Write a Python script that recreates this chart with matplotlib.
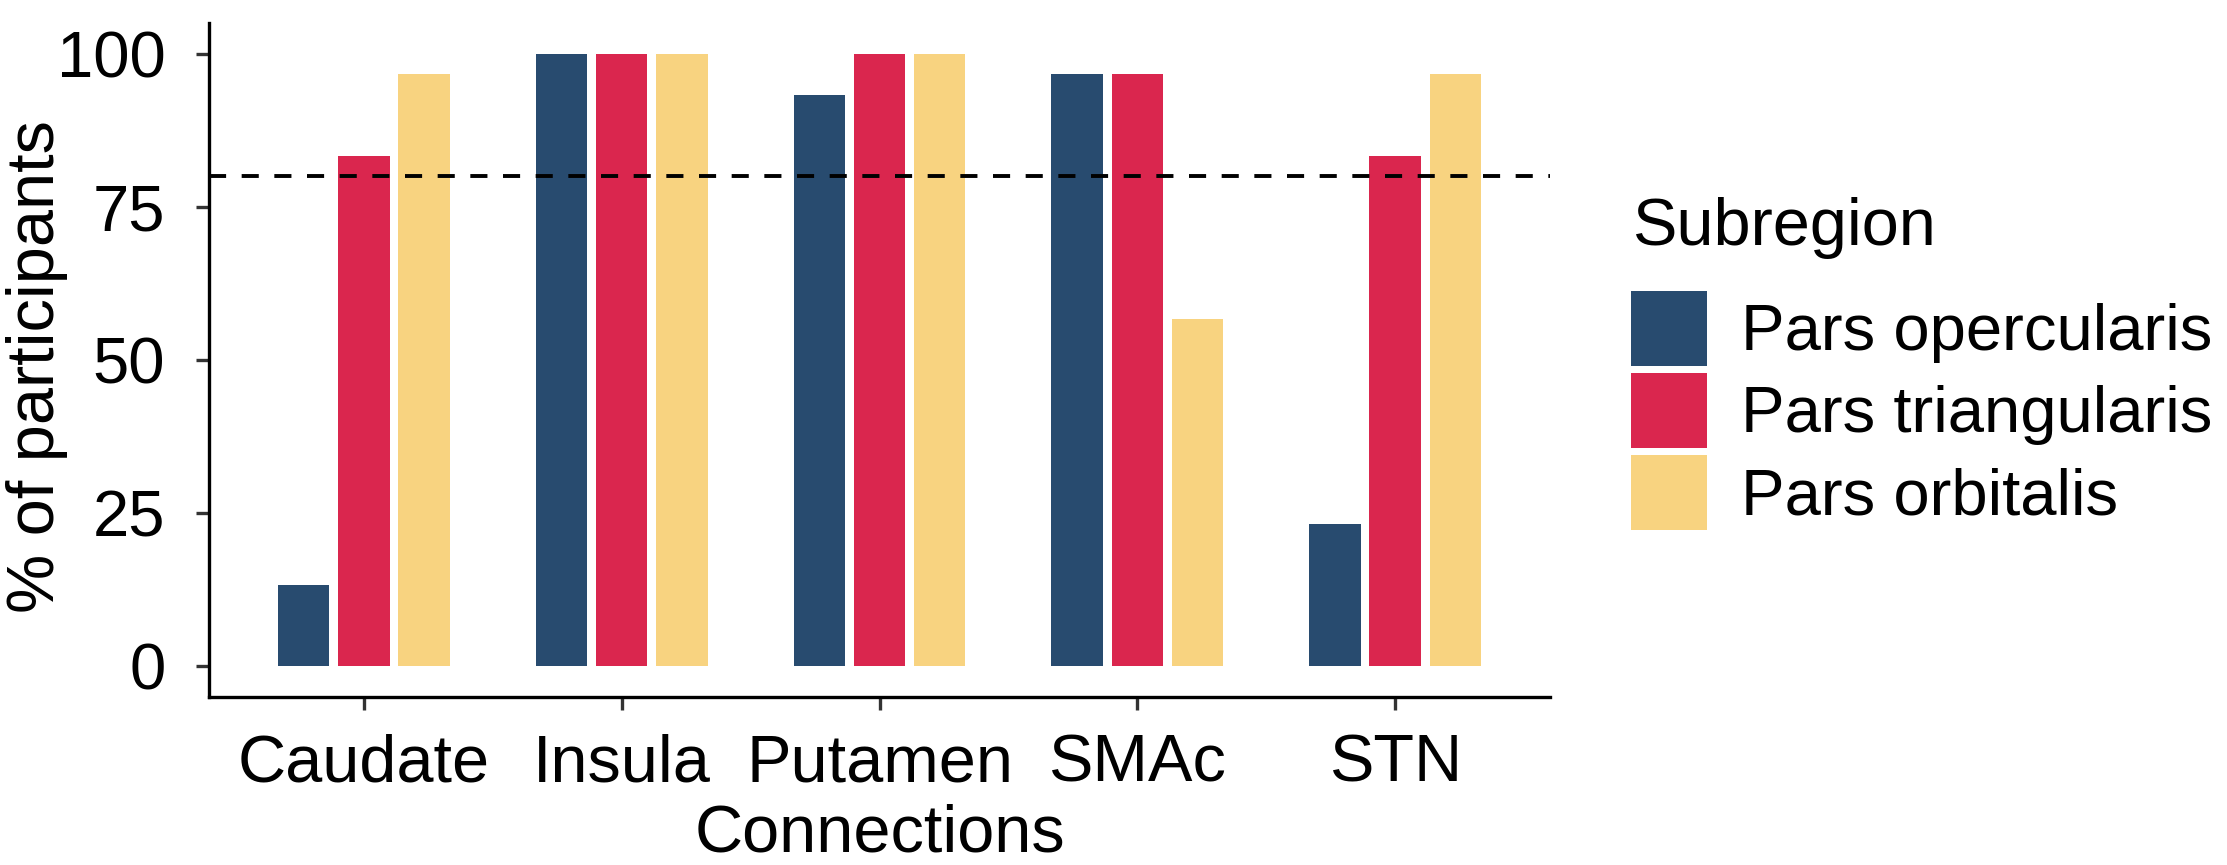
import numpy as np
import matplotlib
matplotlib.use("Agg")
import matplotlib.pyplot as plt
from matplotlib.patches import Patch

plt.rcParams['font.family'] = ['Liberation Sans', 'DejaVu Sans']

# data: % of participants (n = 30) with a connection, per subregion
connections = ['Caudate', 'Insula', 'Putamen', 'SMAc', 'STN']
subregions = ['Pars opercularis', 'Pars triangularis', 'Pars orbitalis']
opercularis = [13.3, 100, 93.3, 96.7, 23.3]
triangularis = [83.3, 100, 100, 96.7, 83.3]
orbitalis = [96.7, 100, 100, 56.7, 96.7]
threshold = 80
yticks = [0, 25, 50, 75, 100]

colors = ['#284B6F', '#DA264E', '#F8D380']
series = [opercularis, triangularis, orbitalis]

W, H = 2227, 865
fig = plt.figure(figsize=(W / 100, H / 100), dpi=100)
ax = fig.add_axes([209 / W, 1 - 697 / H, (1550 - 209) / W, (697 - 23) / H])

x = np.arange(1, len(connections) + 1)
step = 0.7 / 3
for i, (vals, col) in enumerate(zip(series, colors)):
    ax.bar(x + (i - 1) * step, vals, width=0.2, color=col, linewidth=0)

ax.axhline(threshold, color='black', linewidth=2.8, dashes=(4.4, 4.0), zorder=3)

ax.set_xlim(0.4, 5.6)
ax.set_ylim(-5, 105)
ax.set_xticks(x)
ax.set_xticklabels(connections)
ax.set_yticks(yticks)
ax.set_yticklabels([str(t) for t in yticks])

for s in ['top', 'right']:
    ax.spines[s].set_visible(False)
for s in ['left', 'bottom']:
    ax.spines[s].set_linewidth(2.4)
    ax.spines[s].set_color('black')

ax.tick_params(axis='x', labelsize=48, length=9.4, width=2.4, color='#333333', pad=17)
ax.tick_params(axis='y', labelsize=47, length=9.4, width=2.4, color='#333333', pad=22)

ax.set_xlabel('Connections', fontsize=48, labelpad=6)
ax.set_ylabel('% of participants', fontsize=48)
ax.yaxis.set_label_coords((68 - 209) / (1550 - 209), 0.49)

# legend
fig.text(1632 / W, 1 - 245 / H, 'Subregion', fontsize=48, ha='left', va='baseline')
handles = [Patch(facecolor=c, edgecolor='none') for c in colors]
leg_pt = 47
fs_px = leg_pt / 72 * 100
hh = 1.39
fig.legend(handles, subregions, loc='upper left',
           bbox_to_anchor=(1631 / W, 1 - 291 / H),
           frameon=False, fontsize=leg_pt, borderpad=0, borderaxespad=0,
           handlelength=76 / fs_px, handleheight=hh,
           labelspacing=7 / fs_px, handletextpad=34 / fs_px)

fig.savefig('out.png', dpi=100)
